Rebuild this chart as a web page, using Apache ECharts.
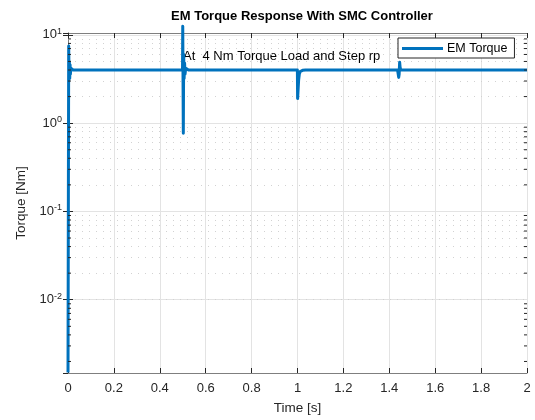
<!DOCTYPE html>
<html>
<head>
<meta charset="utf-8">
<script src="https://cdn.jsdelivr.net/npm/echarts@6/dist/echarts.min.js"></script>
<style>html,body{margin:0;padding:0;background:#fff}#c{width:535px;height:420px}</style>
</head>
<body>
<div id="c"></div>
<script>
// Data
var timeS = [0, 0.003, 0.0045, 0.006, 0.0075, 0.009, 0.0105, 0.012, 0.022, 0.1, 0.2, 0.3, 0.4,
  0.499, 0.5, 0.5025, 0.504, 0.506, 0.508, 0.510, 0.513, 0.525, 0.6, 0.7, 0.8, 0.9,
  0.9995, 1.0005, 1.003, 1.005, 1.008, 1.012, 1.022, 1.035, 1.1, 1.2, 1.3, 1.4,
  1.436, 1.441, 1.443, 1.445, 1.447, 1.450, 1.6, 1.8, 2.0];
var torqueNm = [0.0015, 7.5, 3.3, 5.0, 3.2, 4.6, 3.6, 4.2, 4.0, 4.0, 4.0, 4.0, 4.0,
  4.0, 12.5, 0.77, 6.0, 3.2, 4.8, 3.6, 4.2, 4.0, 4.0, 4.0, 4.0, 4.0,
  4.0, 1.9, 2.5, 3.1, 3.6, 3.85, 3.97, 4.0, 4.0, 4.0, 4.0, 4.0,
  4.0, 3.3, 3.6, 4.9, 4.3, 4.0, 4.0, 4.0, 4.0];
var xTicks = [0, 0.2, 0.4, 0.6, 0.8, 1, 1.2, 1.4, 1.6, 1.8, 2];
var yDecades = [0.01, 0.1, 1, 10];
var yMinors = [0.002,0.003,0.004,0.005,0.006,0.007,0.008,0.009,
  0.02,0.03,0.04,0.05,0.06,0.07,0.08,0.09,
  0.2,0.3,0.4,0.5,0.6,0.7,0.8,0.9,
  2,3,4,5,6,7,8,9];
var yMin = 0.00148, yMax = 10.5;
var titleText = 'EM Torque Response With SMC Controller';
var noteText = 'At  4 Nm Torque Load and Step rp';

var pts = timeS.map(function(t, i){ return [t, torqueNm[i]]; });
var FONT = 'Liberation Sans, Arial, sans-serif';
var INK = '#262626';
var BLUE = '#0072BD';

function yLabel(v){
  var e = Math.round(Math.log10(v));
  if (Math.abs(Math.log10(v) - e) > 1e-6) return '';
  return '{b|10}{s|' + (e < 0 ? '-' + (-e) : e) + '}';
}

var chart = echarts.init(document.getElementById('c'), null, {renderer:'canvas'});
chart.setOption({
  animation: false,
  backgroundColor: '#fff',
  title: { text: titleText, left: 297, top: 5, textAlign: 'center',
    textStyle: { fontFamily: FONT, fontSize: 13, fontWeight: 'bold', color: '#000' } },
  grid: { left: 68, right: 8, top: 33, bottom: 44, containLabel: false },
  legend: { data: [{ name: 'EM Torque', icon: 'rect', itemStyle: { color: BLUE } }],
    left: 398, top: 38, orient: 'horizontal',
    backgroundColor: '#fff', borderColor: INK, borderWidth: 1, borderRadius: 0,
    padding: [4, 7, 3, 4], itemWidth: 41, itemHeight: 3, itemGap: 4,
    textStyle: { fontFamily: FONT, fontSize: 12.5, color: '#000', padding: [0,0,0,-1] }, z: 10 },
  graphic: [{ type: 'text', left: 183, top: 50, z: 1,
    style: { text: noteText, font: '13px ' + FONT, fill: '#000' } }],
  xAxis: [{
    type: 'value', min: 0, max: 2, interval: 0.2,
    name: 'Time [s]', nameLocation: 'middle', nameGap: 28,
    nameTextStyle: { fontFamily: FONT, fontSize: 13.5, color: INK },
    axisLine: { show: true, lineStyle: { color: '#7f7f7f', width: 1 } },
    axisTick: { show: true, inside: true, length: 5, lineStyle: { color: INK } },
    axisLabel: { fontFamily: FONT, fontSize: 13, color: INK, margin: 9,
      formatter: function(v){ return String(+v.toFixed(1)); } },
    splitLine: { show: true, lineStyle: { color: '#e3e3e3', width: 1 } }
  }, {
    type: 'value', min: 0, max: 2, interval: 0.2, position: 'top',
    axisLine: { show: true, lineStyle: { color: '#7f7f7f', width: 1 } },
    axisTick: { show: true, inside: true, length: 5, lineStyle: { color: INK } },
    axisLabel: { show: false }, splitLine: { show: false }
  }],
  yAxis: [{
    type: 'log', logBase: 10, min: yMin, max: yMax,
    name: 'Torque [Nm]', nameLocation: 'middle', nameGap: 37,
    nameTextStyle: { fontFamily: FONT, fontSize: 13.5, color: INK },
    axisLine: { show: true, lineStyle: { color: '#7f7f7f', width: 1 } },
    axisTick: { show: true, inside: true, length: 5, lineStyle: { color: INK } },
    axisLabel: { fontFamily: FONT, color: INK, margin: 6, showMinLabel: false, showMaxLabel: false,
      formatter: yLabel,
      rich: { b: { fontFamily: FONT, fontSize: 13, color: INK },
              s: { fontFamily: FONT, fontSize: 9, color: INK, verticalAlign: 'bottom', padding: [0,0,7,0] } } },
    splitLine: { show: true, lineStyle: { color: '#e3e3e3', width: 1 } }
  }, {
    type: 'log', logBase: 10, min: yMin, max: yMax, position: 'right',
    axisLine: { show: true, lineStyle: { color: '#7f7f7f', width: 1 } },
    axisTick: { show: true, inside: true, length: 5, lineStyle: { color: INK } },
    axisLabel: { show: false }, splitLine: { show: false }
  }],
  series: [{
    name: 'EM Torque', type: 'line', data: pts, xAxisIndex: 0, yAxisIndex: 0,
    showSymbol: false, symbol: 'none', clip: false, z: 5,
    lineStyle: { color: BLUE, width: 3, join: 'round' },
    itemStyle: { color: BLUE },
    markLine: { silent: true, symbol: 'none', label: { show: false }, z: 1,
      lineStyle: { color: '#d2d2d2', type: [1, 6], width: 1 },
      data: yMinors.map(function(v){ return { yAxis: v }; }) }
  }, {
    name: 'minorTicks', type: 'custom', xAxisIndex: 0, yAxisIndex: 0, silent: true, z: 6,
    data: yMinors.map(function(v){ return [0, v]; }),
    renderItem: function(params, api){
      var l = api.coord([0, api.value(1)]);
      var r = api.coord([2, api.value(1)]);
      var st = { stroke: INK, lineWidth: 1 };
      return { type: 'group', children: [
        { type: 'line', shape: { x1: l[0], y1: l[1], x2: l[0] + 3, y2: l[1] }, style: st },
        { type: 'line', shape: { x1: r[0] - 3, y1: r[1], x2: r[0], y2: r[1] }, style: st }
      ]};
    }
  }]
});
</script>
</body>
</html>
